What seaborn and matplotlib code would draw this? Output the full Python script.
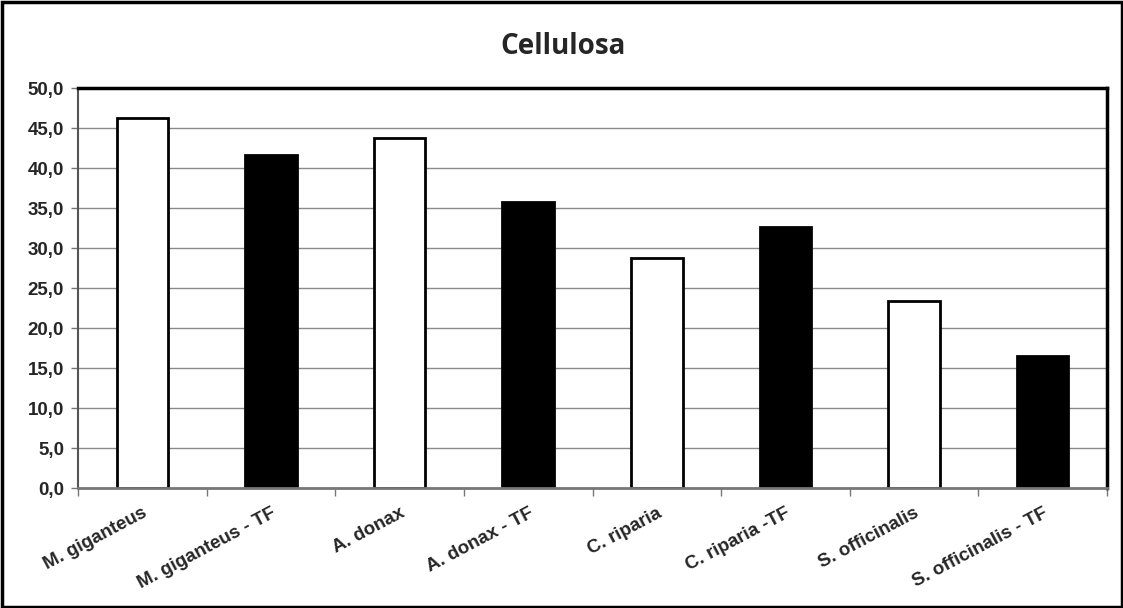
import matplotlib
matplotlib.use("Agg")
import matplotlib.pyplot as plt
import seaborn as sns
import pandas as pd
from matplotlib.patches import Rectangle
from matplotlib.ticker import FuncFormatter, MultipleLocator, FixedLocator

categories = ["M. giganteus", "M. giganteus - TF", "A. donax", "A. donax - TF",
              "C. riparia", "C. riparia -TF", "S. officinalis", "S. officinalis - TF"]
values = [46.2, 41.6, 43.7, 35.7, 28.7, 32.6, 23.4, 16.5]
bar_colors = ["white", "black", "white", "black", "white", "black", "white", "black"]
title = "Cellulosa"

sns.set_theme(style="white")
plt.rcParams['font.family'] = ['Liberation Sans', 'DejaVu Sans']

df = pd.DataFrame({"cat": categories, "val": values})

fig = plt.figure(figsize=(11.23, 6.08), dpi=100)
ax = fig.add_axes([78/1123, 1-488/608, (1107-78)/1123, (488-88)/608])

sns.barplot(data=df, x="cat", y="val", hue="cat", palette=dict(zip(categories, bar_colors)),
            edgecolor="black", linewidth=2, width=0.4, legend=False, ax=ax, saturation=1)

ax.set_ylim(0, 50)
ax.set_xlim(-0.5, len(categories) - 0.5)
ax.yaxis.set_major_locator(MultipleLocator(5))
ax.yaxis.set_major_formatter(FuncFormatter(lambda v, p: f"{v:.1f}".replace(".", ",")))
ax.set_axisbelow(True)
ax.yaxis.grid(True, color="#8a8a8a", linewidth=1)
ax.xaxis.grid(False)
ax.set_xlabel("")
ax.set_ylabel("")

for s in ["top", "right"]:
    ax.spines[s].set_color("black")
    ax.spines[s].set_linewidth(2.5)
ax.spines["left"].set_color("#555555")
ax.spines["left"].set_linewidth(1.5)
ax.spines["bottom"].set_color("#777777")
ax.spines["bottom"].set_linewidth(2)

ax.tick_params(axis="y", which="major", direction="out", length=5, width=1, color="#777777",
               left=True, labelsize=13.5, pad=5)
for lbl in ax.get_yticklabels():
    lbl.set_fontweight("bold")

ax.set_xticks(range(len(categories)))
ax.set_xticklabels(categories, rotation=28, ha="right", rotation_mode="anchor",
                   fontsize=13.5, fontweight="bold")
ax.tick_params(axis="x", which="major", length=0, pad=12)
ax.xaxis.set_minor_locator(FixedLocator([i - 0.5 for i in range(len(categories) + 1)]))
ax.tick_params(axis="x", which="minor", direction="out", length=6, width=1, color="#777777", bottom=True)

fig.text(0.5015, 1 - 47/608, title, ha="center", va="center", fontsize=20,
         fontweight="bold", family=["Open Sans", "DejaVu Sans"])

fig.patches.append(Rectangle((1.5/1123, 1.5/608), 1 - 3/1123, 1 - 3/608, transform=fig.transFigure,
                             fill=False, edgecolor="black", linewidth=2.5, zorder=10))

fig.savefig("out.png", dpi=100, facecolor="white")
